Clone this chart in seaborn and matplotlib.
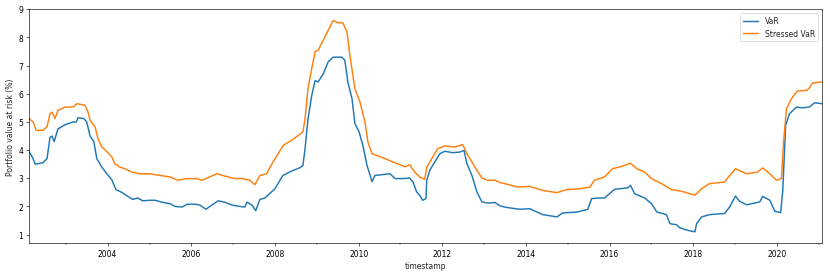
import numpy as np
import pandas as pd
import matplotlib
matplotlib.use("Agg")
import matplotlib.pyplot as plt
import matplotlib.dates as mdates
import seaborn as sns

# ------------------- Data ------------------- #

var_years = [2002.12, 2002.2, 2002.27, 2002.45, 2002.55, 2002.62, 2002.67, 2002.72, 2002.81, 2002.98,
             2003.17, 2003.25, 2003.29, 2003.43, 2003.5, 2003.58, 2003.67, 2003.74, 2003.86, 2003.96,
             2004.1, 2004.2, 2004.34, 2004.49, 2004.6, 2004.72, 2004.84, 2005.0, 2005.13, 2005.3,
             2005.49, 2005.61, 2005.78, 2005.9, 2006.09, 2006.2, 2006.35, 2006.49, 2006.64, 2006.8,
             2006.97, 2007.16, 2007.28, 2007.33, 2007.45, 2007.54, 2007.64, 2007.76, 2008.0, 2008.19,
             2008.36, 2008.6, 2008.67, 2008.72, 2008.79, 2008.88, 2008.96, 2009.03, 2009.15, 2009.27,
             2009.39, 2009.6, 2009.67, 2009.74, 2009.84, 2009.91, 2010.01, 2010.1, 2010.2, 2010.32,
             2010.39, 2010.56, 2010.75, 2010.87, 2011.06, 2011.22, 2011.3, 2011.39, 2011.46, 2011.53,
             2011.61, 2011.63, 2011.7, 2011.82, 2011.94, 2012.06, 2012.25, 2012.42, 2012.52, 2012.59,
             2012.71, 2012.83, 2012.95, 2013.09, 2013.26, 2013.38, 2013.49, 2013.61, 2013.85, 2014.09,
             2014.4, 2014.74, 2014.88, 2015.22, 2015.48, 2015.57, 2015.77, 2015.88, 2016.12, 2016.43,
             2016.5, 2016.6, 2016.84, 2017.0, 2017.13, 2017.36, 2017.44, 2017.6, 2017.68, 2017.87,
             2018.04, 2018.08, 2018.2, 2018.39, 2018.75, 2018.87, 2019.01, 2019.11, 2019.28, 2019.59,
             2019.66, 2019.83, 2019.95, 2020.09, 2020.14, 2020.21, 2020.3, 2020.47, 2020.61, 2020.78,
             2020.9, 2021.07]
var_values = [3.95, 3.75, 3.5, 3.55, 3.7, 4.45, 4.5, 4.3, 4.75, 4.9,
              5.0, 5.0, 5.15, 5.12, 5.0, 4.5, 4.3, 3.7, 3.4, 3.2,
              2.95, 2.6, 2.5, 2.35, 2.25, 2.3, 2.2, 2.22, 2.22, 2.15,
              2.1, 2.0, 1.98, 2.08, 2.08, 2.05, 1.9, 2.05, 2.2, 2.15,
              2.05, 2.0, 1.98, 2.15, 2.05, 1.85, 2.25, 2.3, 2.63, 3.1,
              3.23, 3.38, 3.46, 4.05, 5.1, 5.94, 6.47, 6.42, 6.7, 7.13,
              7.3, 7.3, 7.19, 6.42, 5.83, 4.94, 4.65, 4.17, 3.46, 2.88,
              3.1, 3.13, 3.16, 2.99, 2.99, 3.01, 2.87, 2.51, 2.4, 2.22,
              2.28, 2.93, 3.28, 3.58, 3.87, 3.96, 3.91, 3.93, 3.99, 3.52,
              3.1, 2.51, 2.16, 2.12, 2.14, 2.02, 1.98, 1.95, 1.9, 1.92,
              1.71, 1.63, 1.77, 1.8, 1.9, 2.28, 2.3, 2.3, 2.61, 2.66,
              2.75, 2.45, 2.3, 2.1, 1.8, 1.71, 1.39, 1.35, 1.24, 1.15,
              1.1, 1.39, 1.63, 1.71, 1.75, 1.98, 2.37, 2.18, 2.06, 2.16,
              2.36, 2.22, 1.83, 1.78, 2.53, 4.88, 5.29, 5.53, 5.5, 5.53,
              5.68, 5.65]

svar_years = [2002.12, 2002.22, 2002.29, 2002.45, 2002.55, 2002.62, 2002.67, 2002.74, 2002.81, 2002.98,
              2003.17, 2003.27, 2003.46, 2003.53, 2003.58, 2003.7, 2003.77, 2003.86, 2003.98, 2004.1,
              2004.17, 2004.29, 2004.41, 2004.58, 2004.77, 2005.01, 2005.25, 2005.49, 2005.68, 2005.9,
              2006.13, 2006.25, 2006.44, 2006.61, 2006.8, 2007.04, 2007.21, 2007.4, 2007.52, 2007.64,
              2007.8, 2007.93, 2008.05, 2008.2, 2008.4, 2008.67, 2008.72, 2008.79, 2008.88, 2008.96,
              2009.03, 2009.15, 2009.27, 2009.39, 2009.51, 2009.62, 2009.72, 2009.79, 2009.91, 2010.03,
              2010.15, 2010.22, 2010.32, 2010.44, 2010.63, 2010.8, 2010.92, 2011.11, 2011.22, 2011.34,
              2011.46, 2011.58, 2011.63, 2011.75, 2011.89, 2012.06, 2012.3, 2012.49, 2012.59, 2012.71,
              2012.83, 2012.95, 2013.09, 2013.26, 2013.38, 2013.49, 2013.8, 2014.09, 2014.4, 2014.74,
              2014.98, 2015.29, 2015.53, 2015.64, 2015.88, 2016.07, 2016.29, 2016.5, 2016.65, 2016.84,
              2017.0, 2017.24, 2017.48, 2017.72, 2018.04, 2018.2, 2018.39, 2018.75, 2018.87, 2019.01,
              2019.28, 2019.54, 2019.66, 2019.83, 2019.99, 2020.11, 2020.16, 2020.23, 2020.35, 2020.49,
              2020.71, 2020.78, 2020.85, 2021.07]
svar_values = [5.12, 5.0, 4.7, 4.7, 4.83, 5.29, 5.35, 5.12, 5.41, 5.53,
               5.53, 5.65, 5.59, 5.35, 5.06, 4.82, 4.4, 4.11, 3.95, 3.76,
               3.52, 3.4, 3.34, 3.22, 3.16, 3.16, 3.1, 3.05, 2.93, 2.99,
               2.99, 2.93, 3.05, 3.16, 3.08, 2.99, 2.99, 2.93, 2.77, 3.1,
               3.16, 3.52, 3.81, 4.17, 4.35, 4.65, 5.12, 6.18, 6.9, 7.5,
               7.54, 7.9, 8.25, 8.6, 8.52, 8.52, 8.2, 7.36, 6.18, 5.72,
               5.01, 4.3, 3.87, 3.81, 3.7, 3.59, 3.52, 3.41, 3.48, 3.22,
               3.05, 2.96, 3.4, 3.7, 4.05, 4.15, 4.11, 4.2, 3.87, 3.58,
               3.28, 3.01, 2.93, 2.93, 2.85, 2.81, 2.69, 2.71, 2.57, 2.49,
               2.6, 2.63, 2.69, 2.93, 3.05, 3.34, 3.42, 3.54, 3.34, 3.22,
               2.99, 2.81, 2.6, 2.54, 2.4, 2.63, 2.81, 2.87, 3.1, 3.34,
               3.16, 3.22, 3.37, 3.16, 2.93, 2.99, 4.29, 5.47, 5.83, 6.1,
               6.12, 6.21, 6.38, 6.42]

series_labels = ["VaR", "Stressed VaR"]


def to_date(y):
    # decimal year -> timestamp
    yr = int(np.floor(y))
    return pd.Timestamp(year=yr, month=1, day=1) + pd.Timedelta(days=(y - yr) * 365.25)


df_var = pd.DataFrame({"timestamp": [to_date(y) for y in var_years],
                       "value": var_values, "series": series_labels[0]})
df_svar = pd.DataFrame({"timestamp": [to_date(y) for y in svar_years],
                        "value": svar_values, "series": series_labels[1]})
df = pd.concat([df_var, df_svar], ignore_index=True)

# ------------------- Plot ------------------- #

sns.set_style("ticks", {"axes.edgecolor": "black", "xtick.color": "black", "ytick.color": "black"})
plt.rcParams["font.family"] = ["DejaVu Sans"]

fig, ax = plt.subplots(figsize=(15, 5), dpi=830 / 15)
fig.subplots_adjust(left=0.035, right=0.99, bottom=0.119, top=0.964)

sns.lineplot(data=df, x="timestamp", y="value", hue="series",
             palette=["#1f77b4", "#ff7f0e"], linewidth=1.9, ax=ax)

ax.set_xlim(df["timestamp"].min(), df["timestamp"].max())
ax.set_ylim(0.7, 9)
ax.xaxis.set_major_locator(mdates.YearLocator(2))
ax.xaxis.set_minor_locator(mdates.YearLocator(1))
ax.xaxis.set_major_formatter(mdates.DateFormatter("%Y"))
ax.tick_params(axis="both", which="major", length=4)
ax.tick_params(axis="x", which="minor", length=2.5)
ax.set_xlabel("timestamp")
ax.set_ylabel("Portfolio value at risk (%)")

handles, labels = ax.get_legend_handles_labels()
ax.legend(handles, labels, loc="upper right", frameon=True)

fig.savefig("out.png", dpi=830 / 15)
